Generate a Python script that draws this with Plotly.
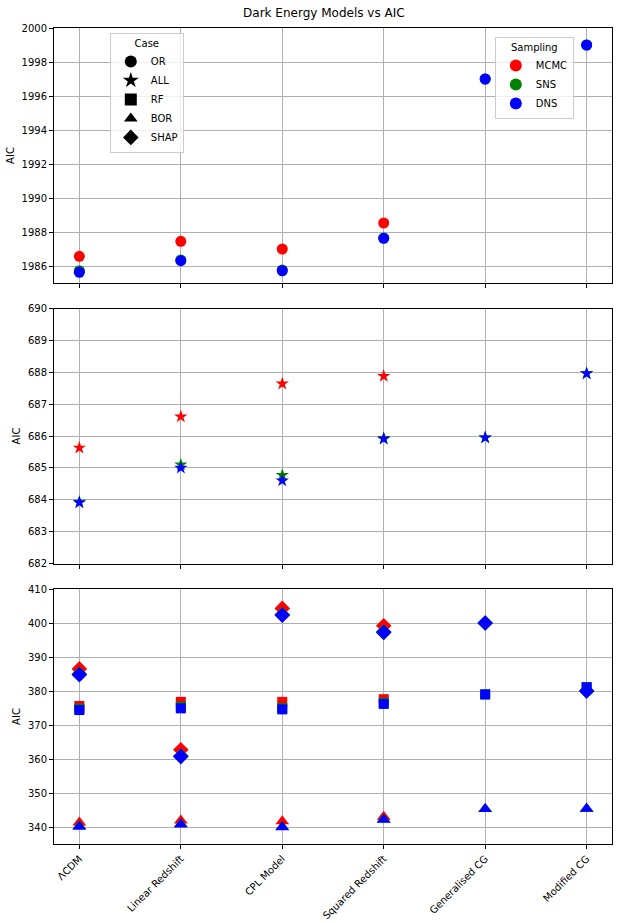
import plotly.graph_objects as go
from plotly.subplots import make_subplots

MODELS = ["ΛCDM", "Linear Redshift", "CPL Model", "Squared Redshift", "Generalised CG", "Modified CG"]

SAMPLERS = ["MCMC", "SNS", "DNS"]
SAMPLER_COLORS = {"MCMC": "red", "SNS": "green", "DNS": "blue"}

CASES = ["OR", "ALL", "RF", "BOR", "SHAP"]
CASE_SYMBOLS = {"OR": "circle", "ALL": "star", "RF": "square", "BOR": "triangle-up", "SHAP": "diamond"}
CASE_SIZES = {"OR": 11, "ALL": 10, "RF": 10, "BOR": 12, "SHAP": 12}

# panel 1: OR case
OR_MCMC = [1986.57, 1987.45, 1987.0, 1988.53, None, None]
OR_SNS = [1985.72, 1986.36, 1985.77, 1987.65, 1997.0, 1999.0]
OR_DNS = [1985.63, 1986.31, 1985.72, 1987.63, 1997.0, 1999.0]

# panel 2: ALL case
ALL_MCMC = [685.63, 686.61, 687.64, 687.88, None, None]
ALL_SNS = [683.93, 685.10, 684.77, 685.93, 685.95, 687.96]
ALL_DNS = [683.91, 685.0, 684.60, 685.91, 685.95, 687.96]

# panel 3: RF / BOR / SHAP cases
RF_MCMC = [375.6, 376.8, 376.8, 377.6, None, None]
RF_SNS = [374.8, 375.4, 375.0, 376.6, 379.0, 381.1]
RF_DNS = [374.4, 374.9, 374.6, 376.2, 379.0, 381.1]

BOR_MCMC = [341.3, 341.9, 341.7, 343.0, None, None]
BOR_SNS = [340.3, 340.9, 340.1, 342.3, 345.3, 345.4]
BOR_DNS = [340.1, 340.7, 339.9, 342.1, 345.3, 345.4]

SHAP_MCMC = [386.5, 362.7, 404.3, 399.2, None, None]
SHAP_SNS = [385.0, 360.9, 402.5, 397.4, 400.0, 380.0]
SHAP_DNS = [384.8, 360.7, 402.3, 397.2, 400.0, 380.0]

PANELS = [
    {"OR": {"MCMC": OR_MCMC, "SNS": OR_SNS, "DNS": OR_DNS}},
    {"ALL": {"MCMC": ALL_MCMC, "SNS": ALL_SNS, "DNS": ALL_DNS}},
    {
        "RF": {"MCMC": RF_MCMC, "SNS": RF_SNS, "DNS": RF_DNS},
        "BOR": {"MCMC": BOR_MCMC, "SNS": BOR_SNS, "DNS": BOR_DNS},
        "SHAP": {"MCMC": SHAP_MCMC, "SNS": SHAP_SNS, "DNS": SHAP_DNS},
    },
]

Y_AXES = [
    dict(range=[1985, 2000], tick0=1986, dtick=2),
    dict(range=[682, 690], tick0=682, dtick=1),
    dict(range=[335, 410], tick0=340, dtick=10),
]

FONT = "DejaVu Sans, Arial, sans-serif"

fig = make_subplots(rows=3, cols=1, shared_xaxes=True, vertical_spacing=0.03125)

for row, panel in enumerate(PANELS, start=1):
    for case, series in panel.items():
        for s in SAMPLERS:
            fig.add_trace(
                go.Scatter(
                    x=MODELS,
                    y=series[s],
                    mode="markers",
                    marker=dict(
                        symbol=CASE_SYMBOLS[case],
                        size=CASE_SIZES[case],
                        color=SAMPLER_COLORS[s],
                        line=dict(width=0),
                    ),
                    showlegend=False,
                    name=f"{case} {s}",
                ),
                row=row,
                col=1,
            )

# legend entries: Case (black symbols)
for case in CASES:
    fig.add_trace(
        go.Scatter(
            x=[None],
            y=[None],
            mode="markers",
            name=case,
            marker=dict(symbol=CASE_SYMBOLS[case], size=7, color="black"),
            legend="legend",
        ),
        row=1,
        col=1,
    )

# legend entries: Sampling (coloured circles)
for s in SAMPLERS:
    fig.add_trace(
        go.Scatter(
            x=[None],
            y=[None],
            mode="markers",
            name=s,
            marker=dict(symbol="circle", size=7, color=SAMPLER_COLORS[s]),
            legend="legend2",
        ),
        row=1,
        col=1,
    )

axis_common = dict(
    showline=True,
    linecolor="black",
    linewidth=1,
    mirror=True,
    ticks="outside",
    ticklen=4,
    tickcolor="black",
    showgrid=True,
    gridcolor="#b0b0b0",
    gridwidth=1,
    zeroline=False,
    automargin=False,
    tickfont=dict(size=10, color="black"),
)

for row in range(1, 4):
    fig.update_xaxes(
        type="category",
        categoryorder="array",
        categoryarray=MODELS,
        range=[-0.25, 5.25],
        tickangle=-45,
        showticklabels=(row == 3),
        row=row,
        col=1,
        **axis_common,
    )
    fig.update_yaxes(
        title=dict(text="AIC", font=dict(size=10, color="black"), standoff=5),
        tickmode="linear",
        row=row,
        col=1,
        **Y_AXES[row - 1],
        **axis_common,
    )

legend_style = dict(
    bgcolor="rgba(255,255,255,0.8)",
    bordercolor="#cccccc",
    borderwidth=1,
    font=dict(size=10, color="black", family=FONT),
    xanchor="left",
    yanchor="top",
    itemsizing="constant",
    itemwidth=30,
    tracegroupgap=0,
)

fig.update_layout(
    width=618,
    height=923,
    title=dict(
        text="Dark Energy Models vs AIC",
        x=0.524,
        xanchor="center",
        y=0.986,
        yanchor="middle",
        font=dict(size=12, color="black", family=FONT),
    ),
    font=dict(family=FONT, size=10, color="black"),
    margin=dict(l=54, r=6, t=28, b=79),
    plot_bgcolor="white",
    paper_bgcolor="white",
    legend=dict(
        title=dict(text="Case", side="top center", font=dict(size=10)),
        x=0.1,
        y=0.994,
        **legend_style,
    ),
    legend2=dict(
        title=dict(text="Sampling", side="top center", font=dict(size=10)),
        x=0.79,
        y=0.989,
        **legend_style,
    ),
)

# drop the browser's default 8px body margin so the figure sits at the page corner
fig.write_html(
    "out.html",
    config={"displayModeBar": False},
    post_script="document.body.style.margin='0';",
)
